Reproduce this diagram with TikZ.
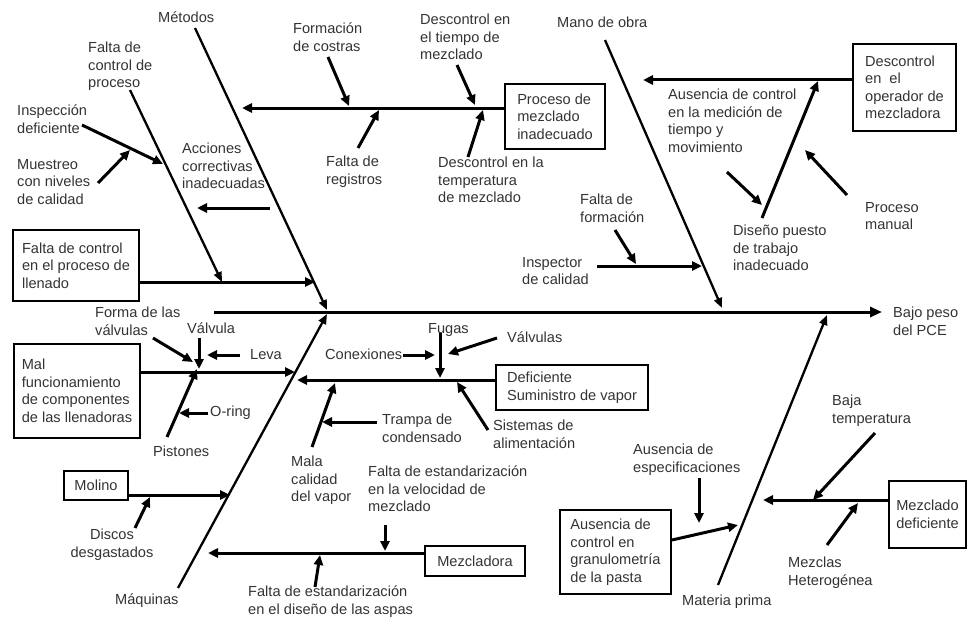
\documentclass[tikz,border=0pt]{standalone}
\usepackage{fontspec}
\setmainfont{Liberation Sans}
\usetikzlibrary{arrows.meta}
\definecolor{txt}{gray}{0.2}
\newcommand\lbfont{\fontsize{14.6}{17.5}\selectfont}
\begin{document}
\begin{tikzpicture}[x=1pt,y=-1pt,
  lbl/.style={anchor=north west, inner sep=0pt, align=left, font=\lbfont, text=txt},
  box/.style={draw, line width=2pt, anchor=north west, inner xsep=6pt, inner ysep=0pt, align=left, font=\lbfont, text=txt},
  spine/.style={line width=3pt, -{Triangle[length=12pt,width=10pt]}},
  bone/.style={line width=2.3pt, -{Triangle[length=10pt,width=8pt]}},
  arr/.style={line width=3pt, -{Triangle[length=10pt,width=9pt]}}]
\useasboundingbox (0,0) rectangle (967,618);

% ---------- coordinates ----------
\coordinate (sp0) at (214,312); \coordinate (sp1) at (882,312);
\coordinate (m0) at (195,28);   \coordinate (m1) at (327,310);
\coordinate (fcp0) at (130,90); \coordinate (fcp1) at (222,282);
\coordinate (insp0) at (82,125); \coordinate (insp1) at (163,164);
\coordinate (mue0) at (98,183); \coordinate (mue1) at (130,150);
\coordinate (acc0) at (270,208); \coordinate (acc1) at (197,208);
\coordinate (ll1) at (315,282);
\coordinate (mz1) at (242,108);
\coordinate (fc0) at (328,57); \coordinate (fc1) at (349,106);
\coordinate (fr0) at (358,148); \coordinate (fr1) at (379,110);
\coordinate (dt0) at (457,65); \coordinate (dt1) at (475,105);
\coordinate (dtp0) at (468,157); \coordinate (dtp1) at (483,110);
\coordinate (mo0) at (605,40); \coordinate (mo1) at (722,308);
\coordinate (op1) at (643,80);
\coordinate (dp0) at (762,218); \coordinate (dp1) at (818,81);
\coordinate (am0) at (727,172); \coordinate (am1) at (762,205);
\coordinate (pm0) at (847,195); \coordinate (pm1) at (805,150);
\coordinate (ff0) at (615,230); \coordinate (ff1) at (636,264);
\coordinate (ic0) at (597,266); \coordinate (ic1) at (702,266);
\coordinate (mq0) at (178,588); \coordinate (mq1) at (327,314);
\coordinate (mf1) at (295,372);
\coordinate (pi0) at (167,437); \coordinate (pi1) at (197,369);
\coordinate (or0) at (208,413); \coordinate (or1) at (179,413);
\coordinate (va0) at (199,338); \coordinate (va1) at (199,369);
\coordinate (le0) at (240,355); \coordinate (le1) at (207,355);
\coordinate (fv0) at (153,338); \coordinate (fv1) at (193,362);
\coordinate (ml1) at (230,495);
\coordinate (di0) at (135,528); \coordinate (di1) at (150,497);
\coordinate (mzl1) at (208,553);
\coordinate (ve0) at (385,525); \coordinate (ve1) at (385,551);
\coordinate (as0) at (315,587); \coordinate (as1) at (320,555);
\coordinate (su1) at (297,380);
\coordinate (fu0) at (440,333); \coordinate (fu1) at (440,378);
\coordinate (co0) at (403,355); \coordinate (co1) at (435,355);
\coordinate (vs0) at (497,338); \coordinate (vs1) at (448,354);
\coordinate (si0) at (488,430); \coordinate (si1) at (457,382);
\coordinate (mc0) at (312,447); \coordinate (mc1) at (335,383);
\coordinate (tr0) at (377,422); \coordinate (tr1) at (322,422);
\coordinate (mp0) at (718,585); \coordinate (mp1) at (827,315);
\coordinate (gr0) at (670,540); \coordinate (gr1) at (738,525);
\coordinate (es0) at (699,478); \coordinate (es1) at (699,523);
\coordinate (md1) at (763,500);
\coordinate (bt0) at (875,433); \coordinate (bt1) at (813,500);
\coordinate (mh0) at (827,545); \coordinate (mh1) at (858,503);

% ---------- boxes ----------
\node[box, minimum width=126pt, minimum height=71pt] (bLl) at (12,229) {Falta de control\\en el proceso de\\llenado};
\node[box, minimum width=100pt, minimum height=65pt] (bPm) at (504,83) {Proceso de\\mezclado\\inadecuado};
\node[box, minimum width=103pt, minimum height=87pt] (bOp) at (852,43) {Descontrol\\en\ \ el\\operador de\\mezcladora};
\node[box, minimum width=126pt, minimum height=94pt] (bMf) at (13,343) {Mal\\funcionamiento\\de componentes\\de las llenadoras};
\node[box, minimum width=64pt, minimum height=29pt, align=center] (bMo) at (63,470) {Molino};
\node[box, minimum width=100pt, minimum height=30pt, align=center] (bMz) at (424,545) {Mezcladora};
\node[box, minimum width=152pt, minimum height=45pt] (bSu) at (495,364) {Deficiente\\Suministro de vapor};
\node[box, minimum width=111pt, minimum height=84pt] (bGr) at (559,509) {Ausencia de\\control en\\granulometría\\de la pasta};
\node[box, minimum width=77pt, minimum height=67pt] (bMd) at (888,480) {Mezclado\\deficiente};

% ---------- labels ----------
\node[lbl] (tMetodos) at (158,12) {Métodos};
\node[lbl] (tFcp) at (88,42) {Falta de\\control de\\proceso};
\node[lbl] (tInsp) at (17,105) {Inspección\\deficiente};
\node[lbl] (tMue) at (17,159) {Muestreo\\con niveles\\de calidad};
\node[lbl] (tAcc) at (182,143) {Acciones\\correctivas\\inadecuadas};
\node[lbl] (tForm) at (293,23) {Formación\\de costras};
\node[lbl] (tReg) at (326,156) {Falta de\\registros};
\node[lbl] (tTiem) at (420,14) {Descontrol en\\el tiempo de\\mezclado};
\node[lbl] (tTemp) at (438,157) {Descontrol en la\\temperatura\\de mezclado};
\node[lbl] (tMano) at (557,17) {Mano de obra};
\node[lbl] (tMed) at (668,89) {Ausencia de control\\en la medición de\\tiempo y\\movimiento};
\node[lbl] (tDis) at (733,225) {Diseño puesto\\de trabajo\\inadecuado};
\node[lbl] (tPman) at (865,202) {Proceso\\manual};
\node[lbl] (tFf) at (580,194) {Falta de\\formación};
\node[lbl] (tIc) at (522,257) {Inspector\\de calidad};
\node[lbl] (tBajo) at (893,307) {Bajo peso\\del PCE};
\node[lbl] (tFv) at (95,307) {Forma de las\\válvulas};
\node[lbl] (tVa) at (187,323) {Válvula};
\node[lbl] (tLe) at (250,349) {Leva};
\node[lbl] (tOr) at (210,406) {O-ring};
\node[lbl] (tPi) at (153,446) {Pistones};
\node[lbl, align=center, anchor=north] (tDi) at (112,529) {Discos\\desgastados};
\node[lbl] (tMaq) at (115,594) {Máquinas};
\node[lbl] (tAsp) at (248,586) {Falta de estandarización\\en el diseño de las aspas};
\node[lbl] (tVel) at (368,466) {Falta de estandarización\\en la velocidad de\\mezclado};
\node[lbl] (tMc) at (291,456) {Mala\\calidad\\del vapor};
\node[lbl] (tTr) at (382,414) {Trampa de\\condensado};
\node[lbl] (tCo) at (325,349) {Conexiones};
\node[lbl] (tFu) at (428,323) {Fugas};
\node[lbl] (tVs) at (507,332) {Válvulas};
\node[lbl] (tSi) at (493,420) {Sistemas de\\alimentación};
\node[lbl] (tEs) at (633,444) {Ausencia de\\especificaciones};
\node[lbl] (tMp) at (682,595) {Materia prima};
\node[lbl] (tBt) at (832,395) {Baja\\temperatura};
\node[lbl] (tMh) at (788,557) {Mezclas\\Heterogénea};

% ---------- spine and main bones ----------
\draw[spine] (sp0) -- (sp1);
\draw[bone] (m0) -- (m1);
\draw[bone] (mo0) -- (mo1);
\draw[bone] (mq0) -- (mq1);
\draw[bone] (mp0) -- (mp1);

% ---------- Métodos ----------
\draw[bone] (fcp0) -- (fcp1);
\draw[arr] (insp0) -- (insp1);
\draw[arr] (mue0) -- (mue1);
\draw[arr] (acc0) -- (acc1);
\draw[arr] (bLl.east |- ll1) -- (ll1);
\draw[arr] (bPm.west |- mz1) -- (mz1);
\draw[arr] (fc0) -- (fc1);
\draw[arr] (fr0) -- (fr1);
\draw[arr] (dt0) -- (dt1);
\draw[arr] (dtp0) -- (dtp1);

% ---------- Mano de obra ----------
\draw[arr] (bOp.west |- op1) -- (op1);
\draw[arr] (dp0) -- (dp1);
\draw[arr] (am0) -- (am1);
\draw[arr] (pm0) -- (pm1);
\draw[arr] (ff0) -- (ff1);
\draw[arr] (ic0) -- (ic1);

% ---------- Máquinas ----------
\draw[arr] (bMf.east |- mf1) -- (mf1);
\draw[arr] (pi0) -- (pi1);
\draw[arr] (or0) -- (or1);
\draw[arr] (va0) -- (va1);
\draw[arr] (le0) -- (le1);
\draw[arr] (fv0) -- (fv1);
\draw[arr] (bMo.east |- ml1) -- (ml1);
\draw[arr] (di0) -- (di1);
\draw[arr] (bMz.west |- mzl1) -- (mzl1);
\draw[arr] (ve0) -- (ve1);
\draw[arr] (as0) -- (as1);
\draw[arr] (bSu.west |- su1) -- (su1);
\draw[arr] (fu0) -- (fu1);
\draw[arr] (co0) -- (co1);
\draw[arr] (vs0) -- (vs1);
\draw[arr] (si0) -- (si1);
\draw[arr] (mc0) -- (mc1);
\draw[arr] (tr0) -- (tr1);

% ---------- Materia prima ----------
\draw[arr] (bGr.east |- gr0) -- (gr1);
\draw[arr] (es0) -- (es1);
\draw[arr] (bMd.west |- md1) -- (md1);
\draw[arr] (bt0) -- (bt1);
\draw[arr] (mh0) -- (mh1);
\end{tikzpicture}
\end{document}
